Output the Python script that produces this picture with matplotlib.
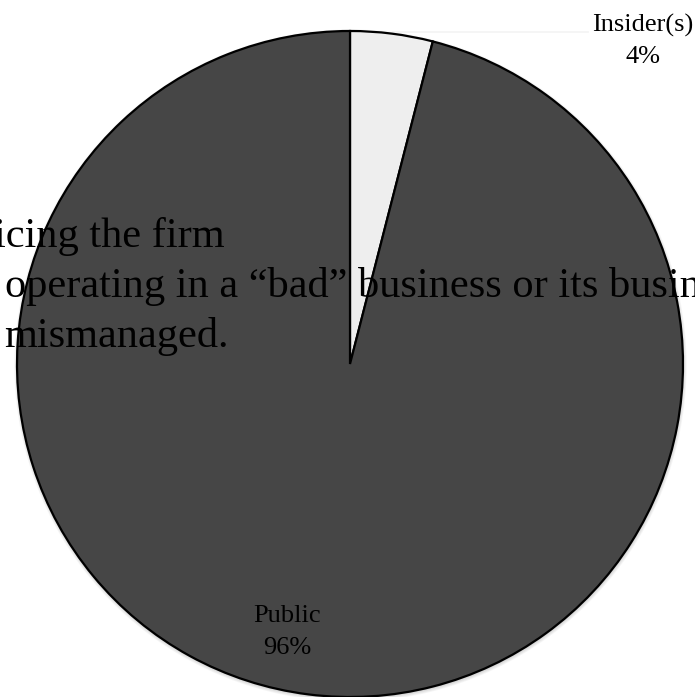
import matplotlib.pyplot as plt
from matplotlib.patches import Circle

plt.rcParams["font.family"] = ["Liberation Serif", "DejaVu Serif"]

labels = ["Insider(s)", "Public"]
shares = [4, 96]
colors = ["#EEEEEE", "#464646"]

body_lines = [
    "icing the firm",
    "operating in a \u201cbad\u201d business or its business",
    "mismanaged.",
]

fig = plt.figure(figsize=(6.95, 6.97), dpi=100)
ax = fig.add_axes([0, 0, 1, 1])

cx, cy, r = 350, 333, 333

# soft drop shadow under the pie
for i in range(5):
    ax.add_patch(Circle((cx + 0.5, cy - 1.5), r + 0.8 * i, color="black",
                        alpha=0.035, lw=0, zorder=0))

wedges, _ = ax.pie(shares, colors=colors, startangle=90, counterclock=False,
                   center=(cx, cy), radius=r,
                   wedgeprops=dict(edgecolor="black", linewidth=1.6))
for w in wedges:
    w.set_zorder(2)

ax.set_xlim(0, 695)
ax.set_ylim(0, 697)
ax.set_aspect("equal")
ax.axis("off")

# faint leader line to the insider label
ax.plot([393, 588], [665, 665], color="#F3F3F3", lw=1.2, zorder=1)

ax.text(643, 656, f"{labels[0]}\n{shares[0]}%", ha="center", va="center",
        fontsize=19, linespacing=1.55, zorder=4)
ax.text(287, 65, f"{labels[1]}\n{shares[1]}%", ha="center", va="center",
        fontsize=19, linespacing=1.55, zorder=4)

# slide text overlapping the chart
for y, x, line in zip([450, 400, 350], [-6, 5, 4], body_lines):
    ax.text(x, y, line, ha="left", va="baseline", fontsize=30.5, zorder=5)

fig.savefig("out.png", dpi=100)
